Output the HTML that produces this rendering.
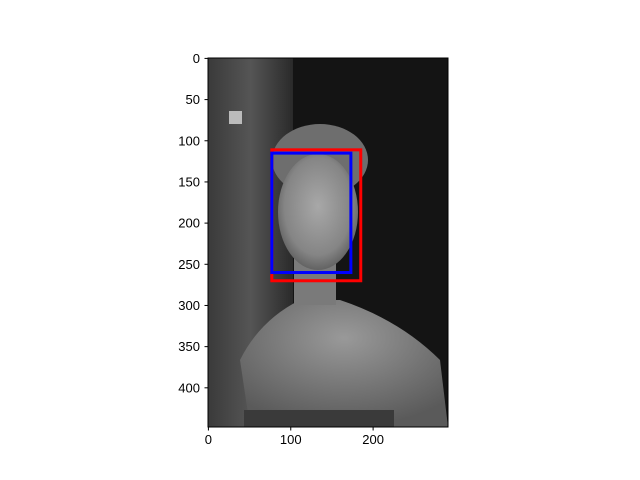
<!DOCTYPE html>
<html><head><meta charset="utf-8"><style>
body{margin:0;background:#fff;}
svg{display:block;font-family:"Liberation Sans",sans-serif;}
</style></head><body>
<svg id="chart" width="640" height="480">
<defs>
<linearGradient id="wood" x1="0" x2="1"><stop offset="0" stop-color="#3a3a3a"/><stop offset="0.5" stop-color="#555"/><stop offset="1" stop-color="#2a2a2a"/></linearGradient>
<radialGradient id="face" cx="0.5" cy="0.45" r="0.6"><stop offset="0" stop-color="#a8a8a8"/><stop offset="0.7" stop-color="#858585"/><stop offset="1" stop-color="#555"/></radialGradient>
<radialGradient id="skin" cx="0.5" cy="0.3" r="0.7"><stop offset="0" stop-color="#999"/><stop offset="1" stop-color="#5a5a5a"/></radialGradient>
<clipPath id="clip"><rect x="208" y="58" width="240" height="369"/></clipPath>
</defs>
<g clip-path="url(#clip)">
<rect x="208" y="58" width="240" height="369" fill="#141414"/>
<rect x="208" y="58" width="85" height="369" fill="url(#wood)"/>
<rect x="229" y="111" width="13" height="13" fill="#bbb"/>
<ellipse cx="320" cy="160" rx="48" ry="36" fill="#6e6e6e"/>
<path d="M250 427 L240 360 Q260 320 300 300 L340 300 Q400 320 440 360 L448 427 Z" fill="url(#skin)"/>
<rect x="294" y="250" width="42" height="55" fill="#7a7a7a"/>
<ellipse cx="318" cy="212" rx="40" ry="58" fill="url(#face)"/>
<rect x="244" y="410" width="150" height="17" fill="#3a3a3a"/>
</g>
<rect x="208" y="58" width="240" height="369" fill="none" stroke="#000" stroke-width="1"/>
<g id="boxes"></g>
<g id="xticks"></g>
<g id="yticks"></g>
</svg>
<script>
const xTicks=[0,100,200];
const yTicks=[0,50,100,150,200,250,300,350,400];
const boxX=[77,77];
const boxY=[111,115];
const boxW=[108,96];
const boxH=[159,145];
const boxColors=["#ff0000","#0000ff"];
const boxNames=["red-bounding-box","blue-bounding-box"];
const ns="http://www.w3.org/2000/svg";
const S=0.8235;
const sx=v=>208+(v+0.5)*S, sy=v=>58+(v+0.5)*S;
const bg=document.getElementById('boxes');
boxX.forEach((x,i)=>{
 const r=document.createElementNS(ns,'rect');
 r.setAttribute('x',sx(x));r.setAttribute('y',sy(boxY[i]));
 r.setAttribute('width',boxW[i]*S);r.setAttribute('height',boxH[i]*S);
 r.setAttribute('fill','none');r.setAttribute('stroke',boxColors[i]);r.setAttribute('stroke-width',3);
 
 
 bg.appendChild(r);
});
const xg=document.getElementById('xticks');
xTicks.forEach(t=>{
 const x=sx(t);
 const l=document.createElementNS(ns,'line');
 l.setAttribute('x1',x);l.setAttribute('x2',x);l.setAttribute('y1',427);l.setAttribute('y2',430.5);l.setAttribute('stroke','#000');
 
 
 xg.appendChild(l);
 const tx=document.createElementNS(ns,'text');
 tx.setAttribute('x',x);tx.setAttribute('y',444);tx.setAttribute('text-anchor','middle');tx.setAttribute('font-size','13');
 tx.textContent=t;
 
 
 xg.appendChild(tx);
});
const yg=document.getElementById('yticks');
yTicks.forEach(t=>{
 const y=sy(t);
 const l=document.createElementNS(ns,'line');
 l.setAttribute('x1',204.5);l.setAttribute('x2',208);l.setAttribute('y1',y);l.setAttribute('y2',y);l.setAttribute('stroke','#000');
 
 
 yg.appendChild(l);
 const tx=document.createElementNS(ns,'text');
 tx.setAttribute('x',200);tx.setAttribute('y',y+4.5);tx.setAttribute('text-anchor','end');tx.setAttribute('font-size','13');
 tx.textContent=t;
 
 
 yg.appendChild(tx);
});
</script>
</body></html>
